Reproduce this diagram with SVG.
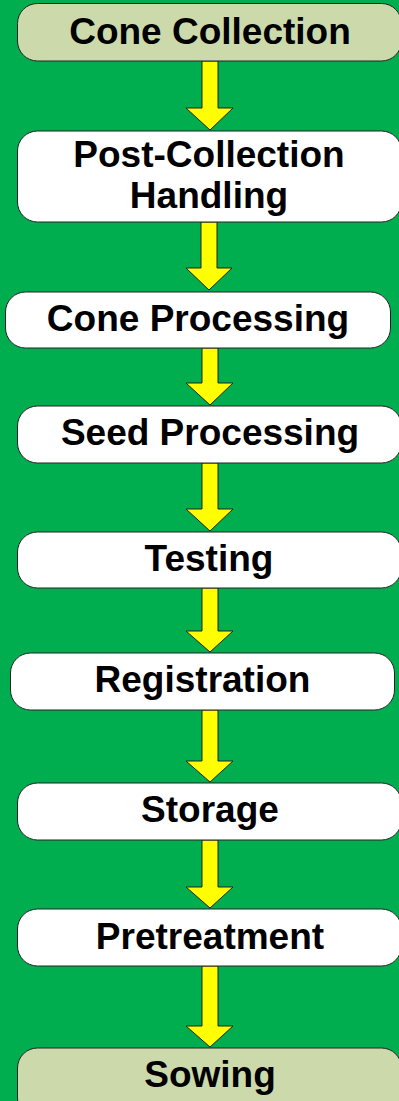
<svg xmlns="http://www.w3.org/2000/svg" width="399" height="1101" viewBox="0 0 399 1101">
<style>
.bg{fill:#00AE50}
.box{fill:#FFFFFF;stroke:#222;stroke-width:1}
.end{fill:#CCDAAB;stroke:#222;stroke-width:1}
.lbl{font-family:"Liberation Sans",Arial,sans-serif;font-weight:bold;font-size:37px;fill:#000;text-anchor:middle}
.arr{fill:#FFFF00;stroke:#222;stroke-width:1;stroke-linejoin:miter}
</style>
<rect class="bg" x="0" y="0" width="399" height="1101"/>
<g id="connectors">
<path class="arr" d="M202,61 H218 V108 H233 L210,130 L186,108 H202 Z"/>
<path class="arr" d="M201,222 H217 V268 H232 L209,290 L186,268 H201 Z"/>
<path class="arr" d="M202,348 H218 V383 H233 L210,405 L186,383 H202 Z"/>
<path class="arr" d="M202,463 H218 V509 H233 L210,531 L186,509 H202 Z"/>
<path class="arr" d="M202,588 H218 V631 H233 L210,652 L186,631 H202 Z"/>
<path class="arr" d="M202,710 H218 V761 H233 L210,782 L186,761 H202 Z"/>
<path class="arr" d="M202,840 H218 V887 H233 L210,908 L186,887 H202 Z"/>
<path class="arr" d="M202,966 H218 V1026 H233 L210,1047 L186,1026 H202 Z"/>
</g>
<g id="n1"><rect class="end" x="17.5" y="3.5" width="384" height="57.5" rx="20"/><text class="lbl" x="210" y="44">Cone Collection</text></g>
<g id="n2"><rect class="box" x="17.5" y="131" width="384" height="91" rx="20"/><text class="lbl" x="209" y="167">Post-Collection</text><text class="lbl" x="209" y="208">Handling</text></g>
<g id="n3"><rect class="box" x="5.5" y="292" width="385" height="56" rx="20"/><text class="lbl" x="198" y="331">Cone Processing</text></g>
<g id="n4"><rect class="box" x="17.5" y="406" width="384" height="57" rx="20"/><text class="lbl" x="210" y="445">Seed Processing</text></g>
<g id="n5"><rect class="box" x="17.5" y="532" width="384" height="56" rx="20"/><text class="lbl" x="209" y="571">Testing</text></g>
<g id="n6"><rect class="box" x="10.5" y="653" width="384" height="57" rx="20"/><text class="lbl" x="202.5" y="692">Registration</text></g>
<g id="n7"><rect class="box" x="17.5" y="783" width="384" height="57" rx="20"/><text class="lbl" x="210" y="822">Storage</text></g>
<g id="n8"><rect class="box" x="17.5" y="909" width="384" height="57" rx="20"/><text class="lbl" x="210" y="949">Pretreatment</text></g>
<g id="n9"><rect class="end" x="17.5" y="1048" width="384" height="70" rx="20"/><text class="lbl" x="210" y="1087">Sowing</text></g>
</svg>
